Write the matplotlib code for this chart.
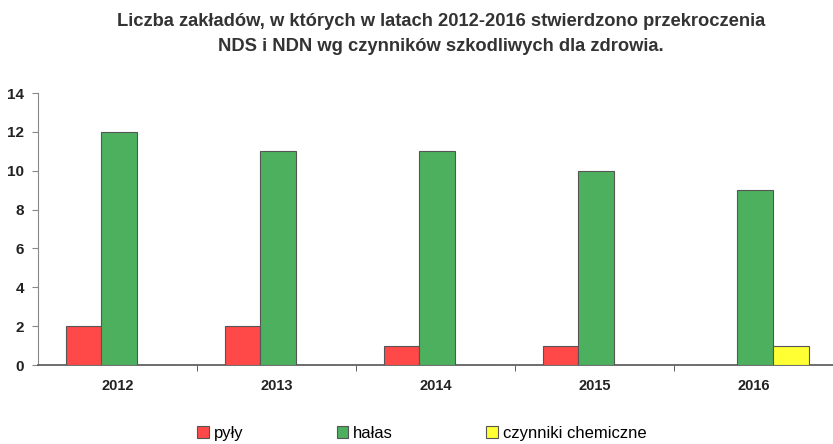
import matplotlib
matplotlib.use("Agg")
import matplotlib.pyplot as plt
import numpy as np

years = ["2012", "2013", "2014", "2015", "2016"]
pyly = [2, 2, 1, 1, 0]
halas = [12, 11, 11, 10, 9]
chem = [0, 0, 0, 0, 1]
series_names = ["pyły", "hałas", "czynniki chemiczne"]
colors = ["#FF4848", "#4DB05E", "#FFFF33"]
yticks = [0, 2, 4, 6, 8, 10, 12, 14]

plt.rcParams['font.family'] = ['Liberation Sans', 'DejaVu Sans']

fig = plt.figure(figsize=(8.33, 4.44), dpi=100)
ax = fig.add_axes([38/833, 1-365/444, 1-38/833, (365-93)/444])

x = np.arange(len(years))
w = 0.224
handles = []
for i, (vals, c) in enumerate(zip([pyly, halas, chem], colors)):
    b = ax.bar(x + (i - 1) * w + 0.01, vals, width=w, color=c, edgecolor="#555555",
               linewidth=0.8, label=series_names[i], zorder=3)
    handles.append(b)

ax.set_ylim(0, 14)
ax.set_xlim(-0.5, 4.453)
ax.set_yticks(yticks)
ax.set_yticklabels([str(t) for t in yticks], fontsize=11, fontweight="bold", color="#222222")
ax.set_xticks(x)
ax.set_xticklabels(years, fontsize=10.5, fontweight="bold", color="#222222")
ax.set_xticks(np.arange(-0.5, 5, 1)[1:], minor=True)
ax.tick_params(axis="x", which="major", length=0, pad=10)
ax.tick_params(axis="x", which="minor", length=4, direction="out", color="#444444")
ax.tick_params(axis="y", length=4, direction="out", color="#888888", pad=6)
for s in ["top", "right"]:
    ax.spines[s].set_visible(False)
ax.spines["left"].set_color("#888888")
ax.spines["bottom"].set_color("#555555")
ax.spines["bottom"].set_linewidth(1.2)

fig.text(0.529, 1-22/444, "Liczba zakładów, w których w latach 2012-2016 stwierdzono przekroczenia",
         ha="center", va="center", fontsize=13.2, fontweight="bold", color="#333333")
fig.text(0.529, 1-46/444, "NDS i NDN wg czynników szkodliwych dla zdrowia.",
         ha="center", va="center", fontsize=13.2, fontweight="bold", color="#333333")

fig.legend(handles=handles, labels=series_names, loc="center left", ncol=3,
           bbox_to_anchor=(197/833, 1-433/444), frameon=False, fontsize=12,
           handlelength=0.7, handleheight=0.7, handletextpad=0.3, columnspacing=5.6,
           borderaxespad=0, borderpad=0)

fig.savefig("out.png", dpi=100)
